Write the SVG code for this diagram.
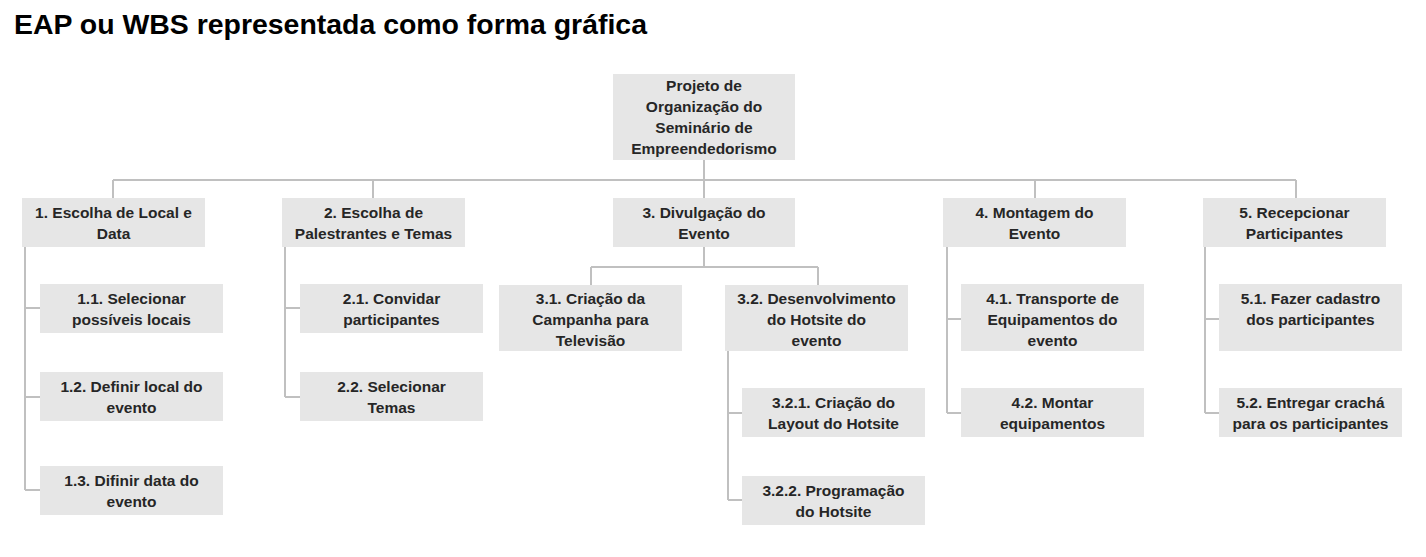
<svg xmlns="http://www.w3.org/2000/svg" width="1426" height="557" viewBox="0 0 1426 557">
<style>
.box{fill:#e6e6e6;}
.t{font-family:"Liberation Sans",Arial,sans-serif;font-weight:bold;font-size:15.5px;fill:#262626;text-anchor:middle;}
.title{font-family:"Liberation Sans",Arial,sans-serif;font-weight:bold;font-size:28px;fill:#000;}
.c{fill:none;stroke:#c0c0c0;stroke-width:2;}
</style>
<rect width="1426" height="557" fill="#fff"/>
<text class="title" x="14" y="34" textLength="633" lengthAdjust="spacingAndGlyphs">EAP ou WBS representada como forma gráfica</text>
<g id="connectors">
<path class="c" d="M704 160V198M113 180H1296M113 180V198M373 180V198M1035 180V198M1296 180V198"/>
<path class="c" d="M25 247V490M25 308H40M25 397H40M25 490H40"/>
<path class="c" d="M285 247V397M285 308H300M285 397H300"/>
<path class="c" d="M704 247V267M591 267H818M591 267V285M818 267V285"/>
<path class="c" d="M728 351V500M728 413H742M728 500H742"/>
<path class="c" d="M947 247V413M947 319H961M947 413H961"/>
<path class="c" d="M1205 247V413M1205 319H1219M1205 413H1219"/>
</g>
<g id="root"><rect class="box" x="613" y="74" width="182" height="86"/>
<text class="t" x="704" y="90.5">Projeto de</text><text class="t" x="704" y="111.5">Organização do</text><text class="t" x="704" y="132.5">Seminário de</text><text class="t" x="704" y="153.5">Empreendedorismo</text></g>
<g id="n1"><rect class="box" x="22" y="198" width="183" height="49"/>
<text class="t" x="113.5" y="217.5">1. Escolha de Local e</text><text class="t" x="113.5" y="238.5">Data</text></g>
<g id="n2"><rect class="box" x="282" y="198" width="183" height="49"/>
<text class="t" x="373.5" y="217.5">2. Escolha de</text><text class="t" x="373.5" y="238.5">Palestrantes e Temas</text></g>
<g id="n3"><rect class="box" x="613" y="198" width="182" height="49"/>
<text class="t" x="704" y="217.5">3. Divulgação do</text><text class="t" x="704" y="238.5">Evento</text></g>
<g id="n4"><rect class="box" x="943" y="198" width="183" height="49"/>
<text class="t" x="1034.5" y="217.5">4. Montagem do</text><text class="t" x="1034.5" y="238.5">Evento</text></g>
<g id="n5"><rect class="box" x="1203" y="198" width="183" height="49"/>
<text class="t" x="1294.5" y="217.5">5. Recepcionar</text><text class="t" x="1294.5" y="238.5">Participantes</text></g>
<g id="n1_1"><rect class="box" x="40" y="284" width="183" height="49"/>
<text class="t" x="131.5" y="303.5">1.1. Selecionar</text><text class="t" x="131.5" y="324.5">possíveis locais</text></g>
<g id="n1_2"><rect class="box" x="40" y="372" width="183" height="49"/>
<text class="t" x="131.5" y="391.5">1.2. Definir local do</text><text class="t" x="131.5" y="412.5">evento</text></g>
<g id="n1_3"><rect class="box" x="40" y="466" width="183" height="49"/>
<text class="t" x="131.5" y="485.5">1.3. Difinir data do</text><text class="t" x="131.5" y="506.5">evento</text></g>
<g id="n2_1"><rect class="box" x="300" y="284" width="183" height="49"/>
<text class="t" x="391.5" y="303.5">2.1. Convidar</text><text class="t" x="391.5" y="324.5">participantes</text></g>
<g id="n2_2"><rect class="box" x="300" y="372" width="183" height="49"/>
<text class="t" x="391.5" y="391.5">2.2. Selecionar</text><text class="t" x="391.5" y="412.5">Temas</text></g>
<g id="n3_1"><rect class="box" x="499" y="285" width="183" height="66"/>
<text class="t" x="590.5" y="303.5">3.1. Criação da</text><text class="t" x="590.5" y="324.5">Campanha para</text><text class="t" x="590.5" y="345.5">Televisão</text></g>
<g id="n3_2"><rect class="box" x="725" y="285" width="183" height="66"/>
<text class="t" x="816.5" y="303.5">3.2. Desenvolvimento</text><text class="t" x="816.5" y="324.5">do Hotsite do</text><text class="t" x="816.5" y="345.5">evento</text></g>
<g id="n3_2_1"><rect class="box" x="742" y="388" width="183" height="49"/>
<text class="t" x="833.5" y="407.5">3.2.1. Criação do</text><text class="t" x="833.5" y="428.5">Layout do Hotsite</text></g>
<g id="n3_2_2"><rect class="box" x="742" y="476" width="183" height="49"/>
<text class="t" x="833.5" y="495.5">3.2.2. Programação</text><text class="t" x="833.5" y="516.5">do Hotsite</text></g>
<g id="n4_1"><rect class="box" x="961" y="284" width="183" height="67"/>
<text class="t" x="1052.5" y="303.5">4.1. Transporte de</text><text class="t" x="1052.5" y="324.5">Equipamentos do</text><text class="t" x="1052.5" y="345.5">evento</text></g>
<g id="n4_2"><rect class="box" x="961" y="388" width="183" height="49"/>
<text class="t" x="1052.5" y="407.5">4.2. Montar</text><text class="t" x="1052.5" y="428.5">equipamentos</text></g>
<g id="n5_1"><rect class="box" x="1219" y="284" width="183" height="67"/>
<text class="t" x="1310.5" y="303.5">5.1. Fazer cadastro</text><text class="t" x="1310.5" y="324.5">dos participantes</text></g>
<g id="n5_2"><rect class="box" x="1219" y="388" width="183" height="49"/>
<text class="t" x="1310.5" y="407.5">5.2. Entregar crachá</text><text class="t" x="1310.5" y="428.5">para os participantes</text></g>
</svg>
